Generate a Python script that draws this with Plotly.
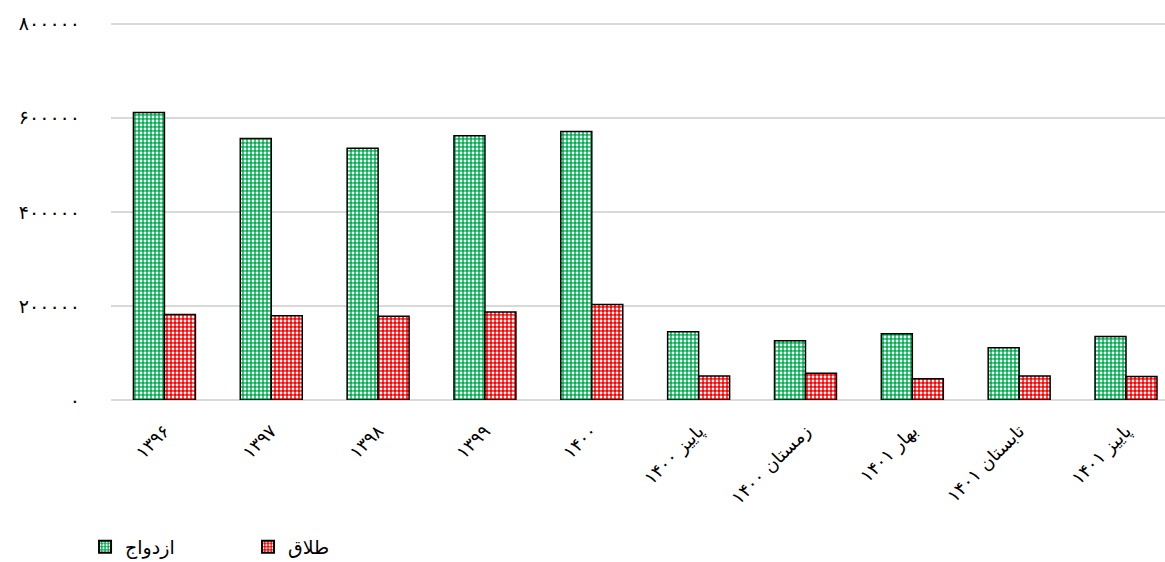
import plotly.graph_objects as go

categories = ["۱۳۹۶", "۱۳۹۷", "۱۳۹۸", "۱۳۹۹", "۱۴۰۰",
              "پاییز ۱۴۰۰", "زمستان ۱۴۰۰", "بهار ۱۴۰۱", "تابستان ۱۴۰۱", "پاییز ۱۴۰۱"]
marriage = [611000, 556000, 535000, 562000, 571000, 145000, 126000, 141000, 111000, 135000]
divorce = [182000, 179000, 178000, 187000, 203000, 51000, 57000, 45000, 51000, 50000]
series_names = ["ازدواج", "طلاق"]
tick_vals = [0, 200000, 400000, 600000, 800000]
tick_text = ["۰", "۲۰۰۰۰۰", "۴۰۰۰۰۰", "۶۰۰۰۰۰", "۸۰۰۰۰۰"]

FONT = "DejaVu Sans"

fig = go.Figure()
fig.add_trace(go.Bar(
    x=list(range(len(categories))), y=marriage, name=series_names[0],
    marker=dict(color="#00B050", line=dict(color="black", width=1.5),
                pattern=dict(shape=".", fgcolor="white", bgcolor="#00B050",
                             size=4, solidity=0.4, fillmode="replace")),
))
fig.add_trace(go.Bar(
    x=list(range(len(categories))), y=divorce, name=series_names[1],
    marker=dict(color="#FF0000", line=dict(color="black", width=1.5),
                pattern=dict(shape=".", fgcolor="white", bgcolor="#FF0000",
                             size=4, solidity=0.4, fillmode="replace")),
))

fig.update_layout(
    width=1165, height=562,
    margin=dict(l=111, r=0, t=19, b=162, autoexpand=False),
    paper_bgcolor="white", plot_bgcolor="white",
    barmode="group", bargap=0.42, bargroupgap=0,
    font=dict(family=FONT, color="black", size=14),
    showlegend=True,
    legend=dict(orientation="h", xref="container", x=0.073, xanchor="left",
                yref="container", y=0.027, yanchor="middle",
                font=dict(size=19, family=FONT), entrywidth=118, entrywidthmode="pixels",
                traceorder="normal", itemsizing="constant"),
    xaxis=dict(tickmode="array", tickvals=list(range(len(categories))), ticktext=categories,
               range=[-0.5, 9.365], tickangle=-45, showgrid=False, zeroline=False,
               showline=False, ticks="", ticklabelstandoff=16, automargin=False,
               tickfont=dict(size=18, family=FONT)),
    yaxis=dict(range=[0, 810000], tickmode="array", tickvals=tick_vals, ticktext=tick_text,
               showgrid=True, gridcolor="#d9d9d9", gridwidth=1.5, zeroline=True,
               zerolinecolor="#d9d9d9", zerolinewidth=1.5, showline=False, ticks="",
               ticklabelstandoff=30, automargin=False, tickfont=dict(size=19, family=FONT)),
)

fig.write_html("out.html", config={"displayModeBar": False})
with open("out.html", "r", encoding="utf-8") as f:
    html = f.read()
html = html.replace("<head>", "<head><style>html,body{margin:0;padding:0;}</style>", 1)
with open("out.html", "w", encoding="utf-8") as f:
    f.write(html)
